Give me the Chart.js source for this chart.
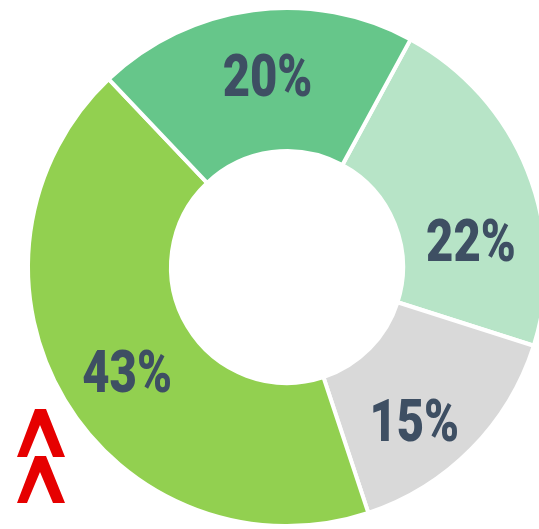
<!DOCTYPE html>
<html>
<head>
<meta charset="utf-8">
<script src="https://cdn.jsdelivr.net/npm/chart.js@4"></script>
<style>
  html, body { margin: 0; padding: 0; background: #fff; overflow: hidden; }
  #wrap { position: relative; width: 539px; height: 529px; }
  #logo { position: absolute; left: 0; top: 0; }
</style>
</head>
<body>
<div id="wrap">
  <canvas id="shareChart" width="539" height="529"></canvas>
  <!-- red chevron logo, bottom left -->
  <svg id="logo" width="80" height="529" viewBox="0 0 80 529">
    <polygon points="35,409 46,409 65,457 53,457 40,425 27,457 17,457" fill="#e60000"/>
    <polygon points="35,456 46,456 65,503 53,503 40,472 27,503 17,503" fill="#e60000"/>
  </svg>
</div>
<script>
// data
const labels = ['Segment A', 'Segment B', 'Segment C', 'Segment D'];
const shares = [22, 15, 43, 20];
const pctLabels = ['22%', '15%', '43%', '20%'];
const sliceColors = ['#b7e4c7', '#d9d9d9', '#92d050', '#66c68a'];

// small nudges so labels sit where the original put them
const labelNudge = [[10, 46], [-6, 24], [1, 11], [5, -3]];

const sliceLabels = {
  id: 'sliceLabels',
  afterDatasetsDraw(chart) {
    const { ctx } = chart;
    const meta = chart.getDatasetMeta(0);
    meta.data.forEach((arc, i) => {
      const p = arc.tooltipPosition();
      const n = labelNudge[i];
      ctx.save();
      // condensed look: squeeze Roboto bold horizontally
      ctx.translate(p.x + n[0], p.y + n[1] + 3);
      ctx.scale(0.8, 1);
      ctx.font = '900 59px Roboto, "DejaVu Sans", sans-serif';
      ctx.fillStyle = '#3e4f63';
      ctx.textAlign = 'center';
      ctx.textBaseline = 'middle';
      ctx.fillText(pctLabels[i], 0, 0);
      ctx.restore();
    });
  }
};

new Chart(document.getElementById('shareChart'), {
  type: 'doughnut',
  data: {
    labels: labels,
    datasets: [{
      data: shares,
      backgroundColor: sliceColors,
      borderColor: '#ffffff',
      borderWidth: 4,
      clip: false
    }]
  },
  options: {
    responsive: false,
    animation: false,
    rotation: 28.5,
    radius: 259,
    cutout: 112,
    layout: { padding: { left: 35, right: 0, top: 5, bottom: 0 } },
    plugins: {
      legend: { display: false },
      tooltip: { enabled: false }
    }
  },
  plugins: [sliceLabels]
});
</script>
</body>
</html>
